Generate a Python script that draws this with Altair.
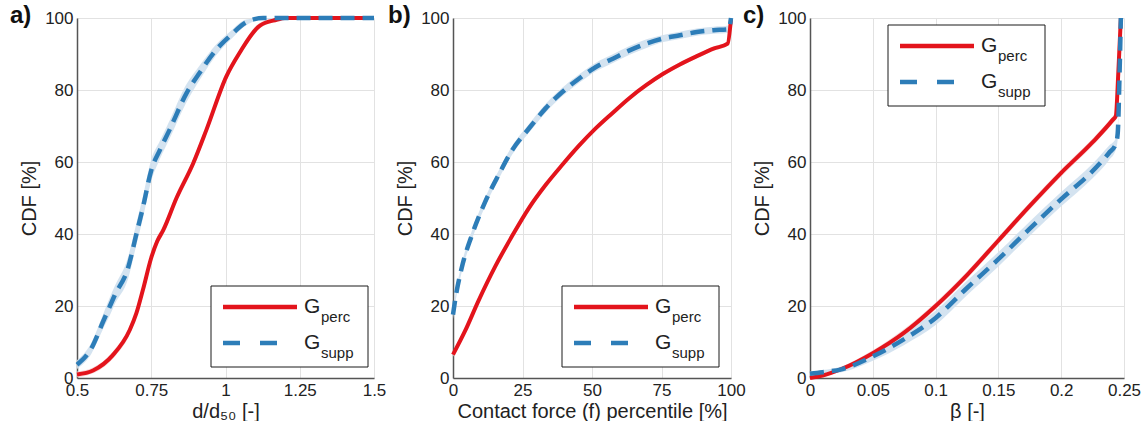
import altair as alt
import pandas as pd

# ---------------- data ----------------
# panel a: particle size distribution
a_perc_x = [0.5, 0.554, 0.62, 0.678, 0.70, 0.722, 0.75, 0.77, 0.79, 0.835, 0.891, 0.936, 1.003, 1.048, 1.116, 1.172, 1.2, 1.5]
a_perc_y = [1.0, 2.1, 6.3, 13.4, 18.0, 24.5, 33.4, 38.0, 41.0, 50.0, 59.6, 69.0, 83.8, 90.4, 97.9, 99.5, 100.0, 100.0]
a_perc_s = [0.8, 0.8, 1.0, 1.2, 1.2, 1.2, 1.2, 1.2, 1.2, 1.2, 1.2, 1.2, 1.2, 1.0, 0.8, 0.5, 0.3, 0.3]
a_supp_x = [0.5, 0.548, 0.588, 0.611, 0.627, 0.672, 0.70, 0.722, 0.75, 0.779, 0.812, 0.868, 0.913, 0.97, 1.015, 1.07, 1.127, 1.2, 1.5]
a_supp_y = [3.7, 8.2, 15.7, 20.0, 23.0, 30.6, 40.0, 47.4, 57.7, 63.3, 69.0, 79.0, 84.8, 91.3, 95.0, 98.8, 100.0, 100.0, 100.0]
a_supp_s = [1.2, 1.5, 2.0, 2.5, 2.5, 3.0, 3.0, 3.0, 3.0, 2.5, 2.5, 2.5, 2.0, 1.5, 1.2, 0.8, 0.4, 0.3, 0.3]

# panel b: contact force percentile
b_perc_x = [0, 4.3, 9.2, 15.2, 21.3, 27.3, 33.3, 39.4, 45.4, 51.4, 57.5, 63.5, 69.6, 75.6, 81.6, 87.7, 93.7, 98.8, 100]
b_perc_y = [6.5, 13.0, 21.5, 31.0, 39.5, 47.2, 53.6, 59.3, 64.6, 69.4, 73.7, 77.8, 81.4, 84.5, 87.1, 89.4, 91.5, 92.9, 99.8]
b_perc_s = [0.6, 0.6, 0.6, 0.6, 0.6, 0.6, 0.6, 0.6, 0.6, 0.6, 0.6, 0.6, 0.6, 0.6, 0.6, 0.6, 0.6, 0.6, 0.6]
b_supp_x = [0, 0.7, 3.1, 6.8, 11.6, 16.4, 21.3, 27.3, 33.3, 39.4, 45.4, 51.4, 57.5, 63.5, 69.6, 75.6, 81.6, 87.7, 93.7, 99.2, 100]
b_supp_y = [17.6, 21.3, 30.5, 39.7, 49.0, 56.4, 63.3, 69.3, 74.9, 79.5, 83.2, 86.4, 88.7, 91.0, 92.9, 94.3, 95.2, 96.1, 96.6, 96.9, 100.0]
b_supp_s = [1.2, 1.2, 1.2, 1.2, 1.2, 1.2, 1.2, 1.2, 1.2, 1.2, 1.2, 1.2, 1.2, 1.2, 1.2, 1.0, 1.0, 1.0, 1.0, 1.0, 1.0]

# panel c: beta
c_perc_x = [0, 0.01, 0.025, 0.05, 0.075, 0.1, 0.125, 0.15, 0.175, 0.2, 0.225, 0.241, 0.2435, 0.2455, 0.2475]
c_perc_y = [0.0, 0.7, 2.5, 6.9, 12.6, 20.0, 28.6, 38.2, 47.8, 57.0, 65.5, 71.7, 72.8, 85.0, 100.0]
c_perc_s = [0.4, 0.4, 0.6, 0.8, 1.0, 1.0, 1.0, 1.0, 1.0, 1.0, 1.0, 1.0, 1.0, 1.0, 0.8]
c_supp_x = [0, 0.01, 0.025, 0.05, 0.075, 0.1, 0.125, 0.15, 0.175, 0.2, 0.225, 0.238, 0.2435, 0.245, 0.2465, 0.2475]
c_supp_y = [1.2, 1.6, 2.4, 6.0, 10.8, 16.7, 25.0, 33.0, 41.5, 49.7, 57.5, 62.5, 65.0, 68.0, 85.0, 100.0]
c_supp_s = [0.6, 0.6, 0.8, 1.2, 1.6, 2.0, 2.0, 2.0, 2.0, 2.0, 2.0, 2.0, 1.6, 1.6, 1.2, 0.8]

series_names = ["perc", "supp"]
y_ticks = [0, 20, 40, 60, 80, 100]

FONT = "Liberation Sans"
TXT = "#222222"
RED = "#e3141c"
BLUE = "#2d7db8"
RED_BAND = "#f7d2d4"
BLUE_BAND = "#cfe0ee"
H = 360
one = pd.DataFrame({"k": [0]})


def frame(xs, ys, ss, name):
    return pd.DataFrame({
        "x": xs, "y": ys,
        "lo": [max(0.0, y - s) for y, s in zip(ys, ss)],
        "hi": [min(100.0, y + s) for y, s in zip(ys, ss)],
        "series": name,
    })


def legend(lx, ly):
    box = alt.Chart(one).mark_rect(fill="white", stroke="#1a1a1a", strokeWidth=1).encode(
        x=alt.value(lx), x2=alt.value(lx + 157), y=alt.value(ly), y2=alt.value(ly + 81))
    r = alt.Chart(one).mark_rule(color=RED, strokeWidth=4.5).encode(
        x=alt.value(lx + 12), x2=alt.value(lx + 86), y=alt.value(ly + 21))
    b = alt.Chart(one).mark_rule(color=BLUE, strokeWidth=4.5, strokeDash=[17, 20]).encode(
        x=alt.value(lx + 12), x2=alt.value(lx + 86), y=alt.value(ly + 57))
    layers = [box, r, b]
    for dy, sub in [(27, "perc"), (63, "supp")]:
        layers.append(alt.Chart(one).mark_text(text="G", font=FONT, fontSize=21, color=TXT,
                                               align="left", baseline="alphabetic").encode(
            x=alt.value(lx + 93), y=alt.value(ly + dy)))
        layers.append(alt.Chart(one).mark_text(text=sub, font=FONT, fontSize=15, color=TXT,
                                               align="left", baseline="alphabetic").encode(
            x=alt.value(lx + 110), y=alt.value(ly + dy + 9)))
    return layers


def panel(df, width, xdom, xticks, xtitle, letter, lx, ly, lab_dx):
    xenc = alt.X("x:Q", scale=alt.Scale(domain=xdom, nice=False, zero=False),
                 axis=alt.Axis(values=xticks, labelExpr="'' + datum.value", title=xtitle))
    color = alt.Color("series:N", scale=alt.Scale(domain=series_names, range=[RED_BAND, BLUE_BAND]),
                      legend=None)
    bands = alt.Chart(df).mark_area(opacity=0.9, interpolate="monotone").encode(
        x=xenc,
        y=alt.Y("lo:Q", scale=alt.Scale(domain=[0, 100], nice=False),
                axis=alt.Axis(values=y_ticks, title="CDF [%]")),
        y2="hi:Q", color=color, detail="series:N")
    red = alt.Chart(df).transform_filter(alt.datum.series == "perc").mark_line(
        color=RED, strokeWidth=4, interpolate="monotone").encode(x="x:Q", y="y:Q")
    blue = alt.Chart(df).transform_filter(alt.datum.series == "supp").mark_line(
        color=BLUE, strokeWidth=4.5, strokeDash=[14, 8], interpolate="monotone").encode(x="x:Q", y="y:Q")
    lab = alt.Chart(one).mark_text(text=letter, font=FONT, fontSize=24, fontWeight="bold",
                                   color="#111", align="left", baseline="alphabetic").encode(
        x=alt.value(lab_dx), y=alt.value(5))
    return alt.layer(bands, red, blue, *legend(lx, ly), lab).properties(width=width, height=H)


df_a = pd.concat([frame(a_perc_x, a_perc_y, a_perc_s, "perc"), frame(a_supp_x, a_supp_y, a_supp_s, "supp")])
df_b = pd.concat([frame(b_perc_x, b_perc_y, b_perc_s, "perc"), frame(b_supp_x, b_supp_y, b_supp_s, "supp")])
df_c = pd.concat([frame(c_perc_x, c_perc_y, c_perc_s, "perc"), frame(c_supp_x, c_supp_y, c_supp_s, "supp")])

pa = panel(df_a, 297, [0.5, 1.5], [0.5, 0.75, 1, 1.25, 1.5], "d/d\u2085\u2080 [-]", "a)", 134, 268, -67)
pb = panel(df_b, 278, [0, 100], [0, 25, 50, 75, 100], "Contact force (f) percentile [%]", "b)", 109, 268, -65)
pc = panel(df_c, 314, [0, 0.25], [0, 0.05, 0.1, 0.15, 0.2, 0.25], "\u03b2 [-]", "c)", 78, 7, -67)

chart = alt.hconcat(pa, pb, pc, spacing=79, bounds="flush").configure_view(
    stroke=None
).configure_axis(
    labelFont=FONT, labelFontSize=17, labelColor=TXT,
    titleFont=FONT, titleFontSize=20, titleFontWeight="normal", titleColor=TXT,
    domainColor="#555555", domainWidth=1.5,
    gridColor="#e2e2e2", gridWidth=1,
    ticks=False, tickSize=0, labelPadding=4, labelFlush=False, labelOverlap=False,
).configure_axisY(titlePadding=5).configure_axisX(titlePadding=3).properties(
    padding={"left": 10, "top": 4, "right": 0, "bottom": 0},
    background="white",
)

chart.save("out.html", embed_options={"renderer": "svg", "actions": False})
